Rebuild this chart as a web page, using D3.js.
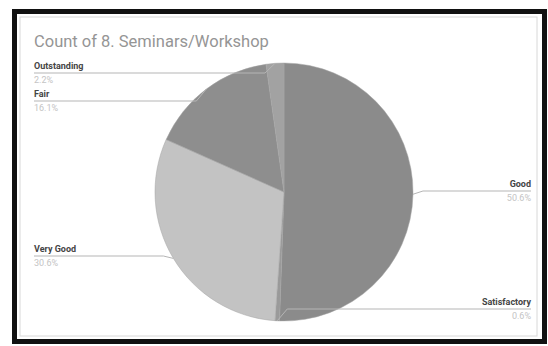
<!DOCTYPE html>
<html>
<head>
<meta charset="utf-8">
<script src="https://cdn.jsdelivr.net/npm/d3@7"></script>
<style>
  html, body { margin: 0; padding: 0; background: #fff; }
  svg { display: block; font-family: Roboto, Arial, sans-serif; }
</style>
</head>
<body>
<svg id="chart" width="548" height="346"></svg>
<script>
const chartTitle = "Count of 8. Seminars/Workshop";
const categories = ["Good", "Satisfactory", "Very Good", "Fair", "Outstanding"];
const counts = [91, 1, 55, 29, 4];
const sliceColors = ["#8b8b8b", "#9a9a9a", "#c3c3c3", "#8e8e8e", "#a2a2a2"];

const svg = d3.select("#chart");
const W = 548, H = 346;

// frame
svg.append("rect").attr("x", 0).attr("y", 0).attr("width", W).attr("height", H).attr("fill", "#fff");
svg.append("rect").attr("x", 20).attr("y", 17).attr("width", 517).attr("height", 319)
  .attr("fill", "#fff").attr("stroke", "#d8d8d8").attr("stroke-width", 1);
svg.append("rect").attr("x", 14.5).attr("y", 11.5).attr("width", 530).attr("height", 330)
  .attr("fill", "none").attr("stroke", "#111").attr("stroke-width", 5);

svg.append("text").attr("x", 34).attr("y", 47).attr("fill", "#959595")
  .attr("font-size", 16.5).text(chartTitle);

const cx = 284, cy = 192, R = 129;
const data = categories.map((c, i) => ({ name: c, value: counts[i], color: sliceColors[i] }));
const total = d3.sum(counts);
const pie = d3.pie().value(d => d.value).sort(null);
const arcs = pie(data);
const arc = d3.arc().innerRadius(0).outerRadius(R);

const g = svg.append("g").attr("transform", `translate(${cx},${cy})`);
g.selectAll("path").data(arcs).join("path")
  .attr("d", arc).attr("fill", d => d.data.color)
  .attr("stroke", "#a5a5a5").attr("stroke-width", 0.5);

// label layout (side and row y of leader line)
const layout = {
  "Good":         { side: "right", y: 191 },
  "Satisfactory": { side: "right", y: 309 },
  "Very Good":    { side: "left",  y: 256 },
  "Fair":         { side: "left",  y: 101 },
  "Outstanding":  { side: "left",  y: 73 }
};
const fmt = d3.format(".1%");
arcs.forEach(a => {
  const L = layout[a.data.name];
  const mid = (a.startAngle + a.endAngle) / 2;
  const px = cx + Math.sin(mid) * R, py = cy - Math.cos(mid) * R;
  const endX = L.side === "right" ? 531 : 34;
  const elbowX = L.side === "right" ? Math.max(px + 10, px + Math.abs(py - L.y) * 0.6) : Math.min(px - 10, px - Math.abs(py - L.y) * 0.6);
  svg.append("polyline")
    .attr("points", `${px},${py} ${elbowX},${L.y} ${endX},${L.y}`)
    .attr("fill", "none").attr("stroke", "#b5b5b5").attr("stroke-width", 1);
  const anchor = L.side === "right" ? "end" : "start";
  svg.append("text").attr("x", endX).attr("y", L.y - 4).attr("text-anchor", anchor)
    .attr("font-size", 9).attr("font-weight", "bold").attr("fill", "#444").text(a.data.name);
  svg.append("text").attr("x", endX).attr("y", L.y + 10).attr("text-anchor", anchor)
    .attr("font-size", 9).attr("fill", "#c4c4c4").text(fmt(a.data.value / total));
});
</script>
</body>
</html>
